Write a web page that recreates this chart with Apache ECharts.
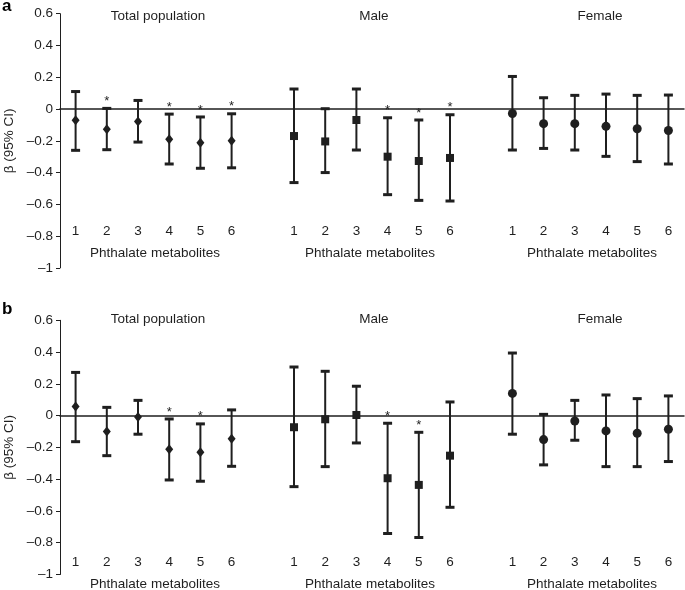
<!DOCTYPE html>
<html><head><meta charset="utf-8">
<script src="https://cdn.jsdelivr.net/npm/echarts@6/dist/echarts.min.js"></script>
<style>html,body{margin:0;padding:0;background:#fff}#c{width:685px;height:590px}</style>
</head><body><div id="c"></div>
<script>
// ---- Data ----
const groups = ['Total population', 'Male', 'Female'];
const metabolites = ['1', '2', '3', '4', '5', '6'];
const xAxisTitle = 'Phthalate metabolites';
const yAxisTitle = 'β (95% CI)';
const panelLetters = ['a', 'b'];

// Panel a
const aTotalBeta = [-0.07, -0.128, -0.078, -0.19, -0.212, -0.20];
const aTotalLow  = [-0.26, -0.256, -0.208, -0.346, -0.373, -0.37];
const aTotalHigh = [0.11, 0.004, 0.054, -0.032, -0.05, -0.03];
const aTotalSig  = [0, 1, 0, 1, 1, 1];
const aMaleBeta = [-0.17, -0.204, -0.069, -0.30, -0.327, -0.308];
const aMaleLow  = [-0.463, -0.40, -0.258, -0.539, -0.575, -0.579];
const aMaleHigh = [0.126, 0.002, 0.126, -0.055, -0.069, -0.036];
const aMaleSig  = [0, 0, 0, 1, 1, 1];
const aFemaleBeta = [-0.028, -0.092, -0.092, -0.109, -0.124, -0.135];
const aFemaleLow  = [-0.258, -0.248, -0.258, -0.298, -0.331, -0.346];
const aFemaleHigh = [0.205, 0.071, 0.086, 0.094, 0.086, 0.088];
const aFemaleSig  = [0, 0, 0, 0, 0, 0];

// Panel b
const bTotalBeta = [0.057, -0.10, -0.008, -0.212, -0.231, -0.145];
const bTotalLow  = [-0.164, -0.252, -0.117, -0.405, -0.413, -0.319];
const bTotalHigh = [0.272, 0.052, 0.096, -0.021, -0.052, 0.036];
const bTotalSig  = [0, 0, 0, 1, 1, 0];
const bMaleBeta = [-0.073, -0.023, 0.004, -0.394, -0.436, -0.252];
const bMaleLow  = [-0.447, -0.321, -0.172, -0.742, -0.767, -0.577];
const bMaleHigh = [0.306, 0.279, 0.185, -0.048, -0.105, 0.086];
const bMaleSig  = [0, 0, 0, 1, 1, 0];
const bFemaleBeta = [0.14, -0.151, -0.034, -0.096, -0.111, -0.086];
const bFemaleLow  = [-0.117, -0.31, -0.155, -0.321, -0.321, -0.289];
const bFemaleHigh = [0.394, 0.008, 0.096, 0.13, 0.107, 0.124];
const bFemaleSig  = [0, 0, 0, 0, 0, 0];

const yMin = -1, yMax = 0.6, yStep = 0.2;

// ---- Build ----
const FONT = 'Liberation Sans, Arial, Helvetica, sans-serif';
const INK = '#1f1f1f';
const GAP = 1; // empty slots between groups
const slotsPerGroup = metabolites.length + GAP;

const cats = [];
groups.forEach((g, gi) => {
  metabolites.forEach(m => cats.push(m));
  if (gi < groups.length - 1) for (let k = 0; k < GAP; k++) cats.push('');
});

const panels = [
  { beta: [aTotalBeta, aMaleBeta, aFemaleBeta], low: [aTotalLow, aMaleLow, aFemaleLow],
    high: [aTotalHigh, aMaleHigh, aFemaleHigh], sig: [aTotalSig, aMaleSig, aFemaleSig] },
  { beta: [bTotalBeta, bMaleBeta, bFemaleBeta], low: [bTotalLow, bMaleLow, bFemaleLow],
    high: [bTotalHigh, bMaleHigh, bFemaleHigh], sig: [bTotalSig, bMaleSig, bFemaleSig] }
];

const gridLeft = 60, gridWidth = 624;
const gridTops = [13.7, 320.3];
const gridH = 254.2;
const labelOffsets = [-52, -27];
const symbols = ['diamond', 'rect', 'circle'];
const symbolSizes = [[8, 10], 8, 9];

function yFmt(v) {
  const r = parseFloat(v.toFixed(1));
  if (r === 0) return '0';
  return r < 0 ? '\u2013' + Math.abs(r) : String(r);
}

function renderErr(params, api) {
  const x = api.value(0);
  const lo = api.coord([x, api.value(1)]);
  const hi = api.coord([x, api.value(2)]);
  const sig = api.value(3);
  const cw = 4.5;
  const children = [
    { type: 'line', shape: { x1: lo[0], y1: lo[1], x2: hi[0], y2: hi[1] }, style: { stroke: INK, lineWidth: 2 } },
    { type: 'rect', shape: { x: hi[0] - cw, y: hi[1] - 1.5, width: 2 * cw, height: 3 }, style: { fill: INK } },
    { type: 'rect', shape: { x: lo[0] - cw, y: lo[1] - 1.5, width: 2 * cw, height: 3 }, style: { fill: INK } }
  ];
  if (sig) {
    children.push({ type: 'text', style: { text: '*', x: hi[0], y: hi[1] - 7, align: 'center', verticalAlign: 'middle',
      font: '13px ' + FONT, fill: INK } });
  }
  return { type: 'group', children };
}

const grid = [], xAxis = [], yAxis = [], series = [], graphic = [];
panels.forEach((p, pi) => {
  grid.push({ left: gridLeft, top: gridTops[pi], width: gridWidth, height: gridH,
    containLabel: false, outerBoundsMode: 'none' });
  xAxis.push({
    type: 'category', gridIndex: pi, data: cats, position: 'bottom',
    axisLine: { show: true, onZero: true, lineStyle: { color: INK, width: 1.5 } },
    axisTick: { show: false }, axisLabel: { show: false }, splitLine: { show: false }
  });
  xAxis.push({
    type: 'category', gridIndex: pi, data: cats, position: 'bottom', offset: labelOffsets[pi],
    axisLine: { show: false, onZero: false }, axisTick: { show: false },
    axisLabel: { show: true, interval: 0, margin: 8, fontSize: 13.5, fontFamily: FONT, color: INK },
    splitLine: { show: false }
  });
  yAxis.push({
    type: 'value', gridIndex: pi, min: yMin, max: yMax, interval: yStep,
    name: yAxisTitle, nameLocation: 'middle', nameGap: 41,
    nameTextStyle: { fontSize: 13.5, fontFamily: FONT, color: INK },
    axisLine: { show: true, onZero: false, lineStyle: { color: INK, width: 1 } },
    axisTick: { show: true, inside: false, length: 4, lineStyle: { color: INK } },
    axisLabel: { formatter: yFmt, fontSize: 13.5, fontFamily: FONT, color: INK, margin: 7 },
    splitLine: { show: false }
  });
  const errData = [];
  groups.forEach((g, gi) => {
    const pts = [];
    metabolites.forEach((m, i) => {
      const xi = gi * slotsPerGroup + i;
      errData.push([xi, p.low[gi][i], p.high[gi][i], p.sig[gi][i]]);
      pts.push([xi, p.beta[gi][i]]);
    });
    series.push({
      type: 'scatter', xAxisIndex: pi * 2, yAxisIndex: pi, data: pts, symbol: symbols[gi],
      symbolSize: symbolSizes[gi], itemStyle: { color: INK, opacity: 1 }, z: 5, silent: true
    });
  });
  series.push({
    type: 'custom', xAxisIndex: pi * 2, yAxisIndex: pi, data: errData, renderItem: renderErr, z: 3,
    silent: true, encode: { x: 0, y: [1, 2] }
  });
});

// Group titles and x titles
const titleX = [158, 374, 600];
const xTitleX = [155, 370, 592];
const titleY = [16.5, 319.5];
const xTitleY = [253.3, 584.7];
const letterY = [6, 309];
panels.forEach((p, pi) => {
  groups.forEach((g, gi) => {
    graphic.push({ type: 'text', x: titleX[gi], y: titleY[pi],
      style: { text: g, align: 'center', verticalAlign: 'middle', font: '13.5px ' + FONT, fill: INK } });
    graphic.push({ type: 'text', x: xTitleX[gi], y: xTitleY[pi],
      style: { text: xAxisTitle, align: 'center', verticalAlign: 'middle', font: '13.5px ' + FONT, fill: INK } });
  });
  graphic.push({ type: 'text', x: 2, y: letterY[pi],
    style: { text: panelLetters[pi], align: 'left', verticalAlign: 'middle', font: 'bold 17px ' + FONT, fill: '#000' } });
});

const chart = echarts.init(document.getElementById('c'), null, { renderer: 'canvas' });
chart.setOption({
  animation: false, backgroundColor: '#fff',
  grid, xAxis, yAxis, series, graphic
});
</script>
</body></html>
